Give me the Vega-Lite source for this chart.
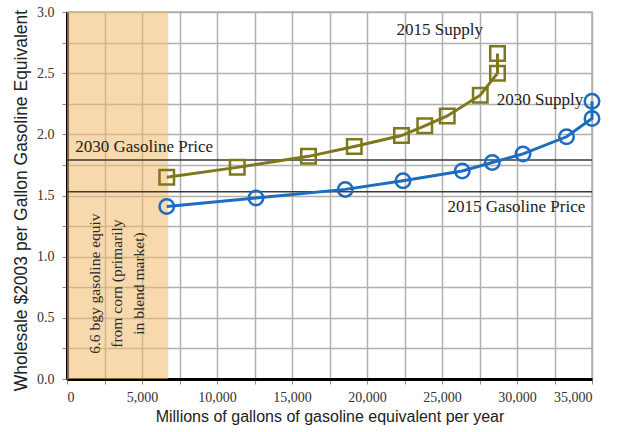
{
  "$schema": "https://vega.github.io/schema/vega-lite/v6.json",
  "width": 525,
  "height": 367,
  "autosize": {"type": "none"},
  "padding": {"left": 67, "top": 12, "right": 32, "bottom": 53},
  "background": "white",
  "config": {
    "view": {"stroke": "#b0b0b0", "strokeWidth": 1.5},
    "axis": {
      "domainColor": "#000000",
      "domainWidth": 3,
      "labelFont": "Liberation Serif",
      "labelColor": "#333333",
      "titleFont": "Liberation Sans",
      "titleFontWeight": "normal",
      "titleColor": "#222222"
    }
  },
  "datasets": {
    "supply": [
      {"series": "2015 Supply", "order": 1, "gallons": 6650, "price": 1.65},
      {"series": "2015 Supply", "order": 2, "gallons": 11350, "price": 1.73},
      {"series": "2015 Supply", "order": 3, "gallons": 16100, "price": 1.82},
      {"series": "2015 Supply", "order": 4, "gallons": 19150, "price": 1.9},
      {"series": "2015 Supply", "order": 5, "gallons": 22300, "price": 1.99},
      {"series": "2015 Supply", "order": 6, "gallons": 23850, "price": 2.07},
      {"series": "2015 Supply", "order": 7, "gallons": 25350, "price": 2.15},
      {"series": "2015 Supply", "order": 8, "gallons": 27550, "price": 2.32},
      {"series": "2015 Supply", "order": 9, "gallons": 28700, "price": 2.5},
      {"series": "2015 Supply", "order": 10, "gallons": 28700, "price": 2.66},
      {"series": "2030 Supply", "order": 1, "gallons": 6650, "price": 1.41},
      {"series": "2030 Supply", "order": 2, "gallons": 12600, "price": 1.48},
      {"series": "2030 Supply", "order": 3, "gallons": 18550, "price": 1.55},
      {"series": "2030 Supply", "order": 4, "gallons": 22400, "price": 1.62},
      {"series": "2030 Supply", "order": 5, "gallons": 26350, "price": 1.7},
      {"series": "2030 Supply", "order": 6, "gallons": 28350, "price": 1.77},
      {"series": "2030 Supply", "order": 7, "gallons": 30400, "price": 1.84},
      {"series": "2030 Supply", "order": 8, "gallons": 33300, "price": 1.98},
      {"series": "2030 Supply", "order": 9, "gallons": 35000, "price": 2.13},
      {"series": "2030 Supply", "order": 10, "gallons": 35000, "price": 2.27}
    ],
    "gasPrices": [
      {"label": "2030 Gasoline Price", "price": 1.79},
      {"label": "2015 Gasoline Price", "price": 1.53}
    ],
    "corn": [{"start": 0, "end": 6750, "low": 0, "high": 3}],
    "labelsLeft": [
      {"text": "2030 Gasoline Price", "gallons": 550, "price": 1.9},
      {"text": "2030 Supply", "gallons": 28650, "price": 2.28}
    ],
    "labelsRight": [
      {"text": "2015 Gasoline Price", "gallons": 34550, "price": 1.41}
    ],
    "labelsCenter": [
      {"text": "2015 Supply", "gallons": 24850, "price": 2.855}
    ],
    "cornNote": [
      {"text": "6.6 bgy gasoline equiv\nfrom corn (primarily\nin blend market)", "gallons": 1850, "price": 0.78}
    ]
  },
  "layer": [
    {
      "data": {"name": "corn"},
      "mark": {"type": "rect", "color": "#f2b86a", "opacity": 0.55},
      "encoding": {
        "x": {
          "field": "start",
          "type": "quantitative",
          "scale": {"domain": [0, 35000], "nice": false},
          "axis": {
            "grid": true,
            "gridColor": "#b0b0b0",
            "gridWidth": 1.5,
            "gridOpacity": 1,
            "ticks": true,
            "tickColor": "#8a8a8a",
            "tickSize": 5,
            "tickCount": 40,
            "values": [0, 2500, 5000, 7500, 10000, 12500, 15000, 17500, 20000, 22500, 25000, 27500, 30000, 32500, 35000],
            "labelExpr": "datum.value % 5000 === 0 ? format(datum.value, ',') : ''",
            "labelFontSize": 14,
            "labelPadding": 6,
            "title": "Millions of gallons of gasoline equivalent per year",
            "titleFontSize": 16,
            "titlePadding": 4
          }
        },
        "x2": {"field": "end"},
        "y": {
          "field": "low",
          "type": "quantitative",
          "scale": {"domain": [0, 3], "nice": false},
          "axis": {
            "grid": true,
            "gridColor": "#b0b0b0",
            "gridWidth": 1.5,
            "gridOpacity": 1,
            "ticks": true,
            "tickColor": "#8a8a8a",
            "tickSize": 5,
            "tickCount": 40,
            "values": [0, 0.25, 0.5, 0.75, 1, 1.25, 1.5, 1.75, 2, 2.25, 2.5, 2.75, 3],
            "labelExpr": "(round(datum.value * 100) % 50 === 0) ? format(datum.value, '.1f') : ''",
            "labelFontSize": 14,
            "labelPadding": 8,
            "title": "Wholesale  $2003 per Gallon Gasoline Equivalent",
            "titleFontSize": 17.5,
            "titleX": -46,
            "titleY": 188,
            "titleAlign": "center",
            "titleBaseline": "middle",
            "titleAngle": -90
          }
        },
        "y2": {"field": "high"}
      }
    },
    {
      "data": {"name": "gasPrices"},
      "mark": {"type": "rule", "color": "#3a3a3a", "strokeWidth": 1.5},
      "encoding": {
        "y": {"field": "price", "type": "quantitative"}
      }
    },
    {
      "data": {"name": "supply"},
      "mark": {"type": "line", "strokeWidth": 3},
      "encoding": {
        "x": {"field": "gallons", "type": "quantitative"},
        "y": {"field": "price", "type": "quantitative"},
        "order": {"field": "order", "type": "quantitative"},
        "color": {
          "field": "series",
          "type": "nominal",
          "scale": {"domain": ["2015 Supply", "2030 Supply"], "range": ["#7d781c", "#1c6cbf"]},
          "legend": null
        }
      }
    },
    {
      "data": {"name": "supply"},
      "mark": {"type": "point", "filled": false, "strokeWidth": 2.5, "size": 210, "opacity": 1},
      "encoding": {
        "x": {"field": "gallons", "type": "quantitative"},
        "y": {"field": "price", "type": "quantitative"},
        "color": {"field": "series", "type": "nominal", "legend": null},
        "shape": {
          "field": "series",
          "type": "nominal",
          "scale": {"domain": ["2015 Supply", "2030 Supply"], "range": ["square", "circle"]},
          "legend": null
        }
      }
    },
    {
      "data": {"name": "labelsLeft"},
      "mark": {"type": "text", "align": "left", "baseline": "middle", "font": "Liberation Serif", "fontSize": 17, "color": "#222222"},
      "encoding": {
        "x": {"field": "gallons", "type": "quantitative"},
        "y": {"field": "price", "type": "quantitative"},
        "text": {"field": "text"}
      }
    },
    {
      "data": {"name": "labelsRight"},
      "mark": {"type": "text", "align": "right", "baseline": "middle", "font": "Liberation Serif", "fontSize": 17, "color": "#222222"},
      "encoding": {
        "x": {"field": "gallons", "type": "quantitative"},
        "y": {"field": "price", "type": "quantitative"},
        "text": {"field": "text"}
      }
    },
    {
      "data": {"name": "labelsCenter"},
      "mark": {"type": "text", "align": "center", "baseline": "middle", "font": "Liberation Serif", "fontSize": 17, "color": "#222222"},
      "encoding": {
        "x": {"field": "gallons", "type": "quantitative"},
        "y": {"field": "price", "type": "quantitative"},
        "text": {"field": "text"}
      }
    },
    {
      "data": {"name": "cornNote"},
      "mark": {"type": "text", "align": "center", "baseline": "middle", "angle": 270, "lineBreak": "\n", "lineHeight": 22, "font": "Liberation Serif", "fontSize": 15.5, "color": "#2a2a2a"},
      "encoding": {
        "x": {"field": "gallons", "type": "quantitative"},
        "y": {"field": "price", "type": "quantitative"},
        "text": {"field": "text"}
      }
    }
  ]
}
